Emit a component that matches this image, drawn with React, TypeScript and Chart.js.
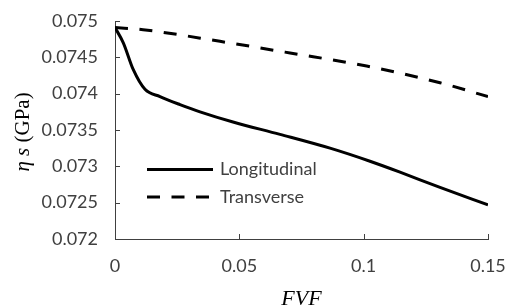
import React, { useEffect, useRef } from 'react';
import { Chart, registerables } from 'chart.js';

Chart.register(...registerables);

// ---- data ----
const longX = [0, 0.00334, 0.00736, 0.01206, 0.01809, 0.02613, 0.03418, 0.04745, 0.06635, 0.08646, 0.10254, 0.11461, 0.1307, 0.15];
const longY = [0.07491, 0.0747, 0.07433, 0.07406, 0.07396, 0.07385, 0.07375, 0.07361, 0.07344, 0.07325, 0.07307, 0.07292, 0.07271, 0.07247];
const transX = [0, 0.0113, 0.0422, 0.0704, 0.1012, 0.1307, 0.15];
const transY = [0.07491, 0.07488, 0.07472, 0.07456, 0.07438, 0.07415, 0.07396];

const seriesLabels = ['Longitudinal', 'Transverse'];
const xTicks = [0, 0.05, 0.1, 0.15];
const xTickLabels = ['0', '0.05', '0.1', '0.15'];
const yTicks = [0.072, 0.0725, 0.073, 0.0735, 0.074, 0.0745, 0.075];
const yTickLabels = ['0.072', '0.0725', '0.073', '0.0735', '0.074', '0.0745', '0.075'];
const xTitle = 'FVF';
const yTitleItalic = 'η s';
const yTitleUpright = ' (GPa)';

const AXIS = '#404040';
const TEXT = '#404040';
const LABEL_FONT = { family: 'Lato', size: 18 };

const innerTicks = {
  id: 'innerTicks',
  afterDraw(chart: any) {
    const { ctx, chartArea, scales } = chart;
    const x = scales.x;
    const y = scales.y;
    ctx.save();
    ctx.strokeStyle = AXIS;
    ctx.lineWidth = 1;
    x.ticks.forEach((t: any) => {
      const px = Math.round(x.getPixelForValue(t.value)) + 0.5;
      ctx.beginPath();
      ctx.moveTo(px, chartArea.bottom);
      ctx.lineTo(px, chartArea.bottom - 5);
      ctx.stroke();
    });
    y.ticks.forEach((t: any) => {
      const py = Math.round(y.getPixelForValue(t.value)) + 0.5;
      ctx.beginPath();
      ctx.moveTo(chartArea.left, py);
      ctx.lineTo(chartArea.left + 5, py);
      ctx.stroke();
    });
    ctx.restore();
  },
};

const yTitlePlugin = {
  id: 'yTitle',
  afterDraw(chart: any) {
    const { ctx, chartArea } = chart;
    const cy = (chartArea.top + chartArea.bottom) / 2 + 2;
    const cx = 23;
    ctx.save();
    ctx.translate(cx, cy);
    ctx.rotate(-Math.PI / 2);
    ctx.fillStyle = '#000';
    ctx.textBaseline = 'middle';
    const fi = 'italic 21px "Liberation Serif"';
    const fu = '21px "Liberation Serif"';
    ctx.font = fi;
    const w1 = ctx.measureText(yTitleItalic).width;
    ctx.font = fu;
    const w2 = ctx.measureText(yTitleUpright).width;
    const start = -(w1 + w2) / 2;
    ctx.font = fi;
    ctx.textAlign = 'left';
    ctx.fillText(yTitleItalic, start, 0);
    ctx.font = fu;
    ctx.fillText(yTitleUpright, start + w1, 0);
    ctx.restore();
  },
};

const legendPlugin = {
  id: 'customLegend',
  afterDraw(chart: any) {
    const { ctx, chartArea } = chart;
    ctx.save();
    chart.data.datasets.forEach((ds: any, i: number) => {
      const y = chartArea.top + 148.5 + i * 27.5;
      const x0 = chartArea.left + 32;
      const x1 = chartArea.left + 98;
      ctx.strokeStyle = ds.borderColor;
      ctx.lineWidth = ds.borderWidth;
      ctx.setLineDash(ds.borderDash || []);
      ctx.beginPath();
      ctx.moveTo(x0, y);
      ctx.lineTo(x1, y);
      ctx.stroke();
      ctx.setLineDash([]);
      ctx.fillStyle = TEXT;
      ctx.font = '18px Lato';
      ctx.textBaseline = 'middle';
      ctx.textAlign = 'left';
      ctx.fillText(ds.label, chartArea.left + 105, y);
    });
    ctx.restore();
  },
};

export default function App() {
  const ref = useRef<HTMLCanvasElement | null>(null);

  useEffect(() => {
    if (!ref.current) return;
    const chart = new Chart(ref.current, {
      type: 'line',
      data: {
        datasets: [
          {
            label: seriesLabels[0],
            data: longX.map((x, i) => ({ x, y: longY[i] })),
            borderColor: '#000',
            borderWidth: 3,
            pointRadius: 0,
            cubicInterpolationMode: 'monotone',
            fill: false,
          },
          {
            label: seriesLabels[1],
            data: transX.map((x, i) => ({ x, y: transY[i] })),
            borderColor: '#000',
            borderWidth: 3,
            borderDash: [13, 11.5],
            pointRadius: 0,
            cubicInterpolationMode: 'monotone',
            fill: false,
          },
        ],
      },
      options: {
        animation: false,
        responsive: true,
        maintainAspectRatio: false,
        layout: { padding: { left: 0, top: 21, right: 19, bottom: 0 } },
        plugins: {
          legend: { display: false },
          tooltip: { enabled: false },
        },
        scales: {
          x: {
            type: 'linear',
            min: 0,
            max: 0.15,
            afterBuildTicks: (s: any) => {
              s.ticks = xTicks.map((v) => ({ value: v }));
            },
            afterFit: (s: any) => {
              s.height = 68;
              s.paddingLeft = 0;
              s.paddingRight = 0;
            },
            grid: { display: false, drawTicks: false },
            border: { display: true, color: AXIS, width: 1 },
            ticks: {
              padding: 16,
              color: TEXT,
              font: LABEL_FONT,
              maxRotation: 0,
              callback: (v: any) => {
                const i = xTicks.findIndex((t) => Math.abs(t - v) < 1e-9);
                return i >= 0 ? xTickLabels[i] : '';
              },
            },
            title: {
              display: true,
              text: xTitle,
              color: '#000',
              font: { family: 'Liberation Serif', size: 22, style: 'italic', lineHeight: 0.75 },
              padding: { top: 0, bottom: 0 },
            },
          },
          y: {
            type: 'linear',
            min: 0.072,
            max: 0.075,
            afterBuildTicks: (s: any) => {
              s.ticks = yTicks.map((v) => ({ value: v }));
            },
            afterFit: (s: any) => {
              s.width = 115;
              s.paddingTop = 0;
              s.paddingBottom = 0;
            },
            grid: { display: false, drawTicks: false },
            border: { display: true, color: AXIS, width: 1 },
            ticks: {
              padding: 17,
              color: TEXT,
              font: LABEL_FONT,
              callback: (v: any) => {
                const i = yTicks.findIndex((t) => Math.abs(t - v) < 1e-9);
                return i >= 0 ? yTickLabels[i] : '';
              },
            },
          },
        },
      },
      plugins: [innerTicks, yTitlePlugin, legendPlugin],
    } as any);
    return () => chart.destroy();
  }, []);

  return (
    <div style={{ position: 'fixed', left: 0, top: 0, width: 507, height: 307, background: '#fff' }}>
      <canvas ref={ref} />
    </div>
  );
}
